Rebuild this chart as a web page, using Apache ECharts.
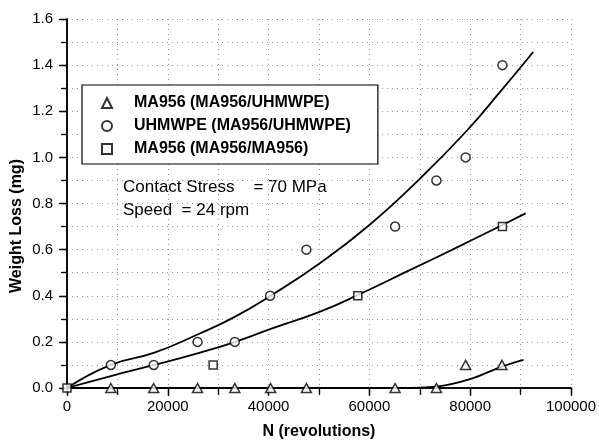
<!DOCTYPE html>
<html>
<head>
<meta charset="utf-8">
<script src="https://cdn.jsdelivr.net/npm/echarts@6/dist/echarts.min.js"></script>
<style>
  html, body { margin: 0; background: #fff; }
  #chart { width: 599px; height: 445px; }
</style>
</head>
<body>
<div id="chart"></div>
<script>
// measured points
var seriesNames = ['MA956 (MA956/UHMWPE)', 'UHMWPE (MA956/UHMWPE)', 'MA956 (MA956/MA956)'];

var triN = [8700, 17200, 25900, 33300, 40400, 47500, 65100, 73300, 79100, 86300];
var triW = [0, 0, 0, 0, 0, 0, 0, 0, 0.1, 0.1];

var cirN = [8700, 17200, 25900, 33300, 40300, 47500, 65100, 73300, 79100, 86400];
var cirW = [0.1, 0.1, 0.2, 0.2, 0.4, 0.6, 0.7, 0.9, 1.0, 1.4];

var sqN = [0, 29000, 57700, 86400];
var sqW = [0, 0.1, 0.4, 0.7];

// fitted curves
var fitCirN = [0, 8700, 17200, 25900, 33000, 40400, 50100, 60000, 69900, 79100, 86100, 92500];
var fitCirW = [0, 0.10, 0.152, 0.232, 0.305, 0.400, 0.540, 0.707, 0.905, 1.110, 1.288, 1.457];

var fitSqN = [0, 8700, 17300, 25900, 33100, 40300, 50100, 57700, 67900, 77800, 86400, 91000];
var fitSqW = [0, 0.052, 0.10, 0.15, 0.198, 0.255, 0.330, 0.403, 0.51, 0.614, 0.707, 0.757];

var fitTriN = [0, 40000, 66000, 73300, 79800, 86300, 90600];
var fitTriW = [0, 0, 0, 0.006, 0.037, 0.093, 0.122];

var notes = ['Contact Stress    = 70 MPa', 'Speed  = 24 rpm'];

var xMin = 0, xMax = 100000, xStep = 20000;
var yMin = 0, yMax = 1.6, yStep = 0.2;

var font = 'Liberation Sans, Arial, Helvetica, sans-serif';

function pairs(xs, ys) {
    return xs.map(function (x, i) { return [x, ys[i]]; });
}

var chart = echarts.init(document.getElementById('chart'));

var markerStyle = { color: '#fff', borderColor: '#000', borderWidth: 1.5 };
var fitStyle = { color: '#000', width: 1.8 };

function mainAxis(extra) {
    return Object.assign({
        type: 'value',
        axisLine: { show: true, lineStyle: { color: '#000', width: 1.5 } },
        axisTick: { show: true, length: 7, lineStyle: { color: '#000', width: 1.3 } },
        minorTick: { show: true, splitNumber: 2, length: 5, lineStyle: { color: '#000', width: 1.2 } },
        splitLine: { show: true, lineStyle: { color: '#999', type: [1, 4], width: 1 } },
        minorSplitLine: { show: true, lineStyle: { color: '#999', type: [1, 4], width: 1 } },
        axisLabel: { color: '#000', fontSize: 15, fontFamily: font }
    }, extra);
}

function mirrorAxis(extra) {
    return Object.assign({
        type: 'value',
        axisLine: { show: true, lineStyle: { color: '#000', width: 1.5 } },
        axisTick: { show: true, inside: true, length: 8, lineStyle: { color: '#000', width: 1.3 } },
        minorTick: { show: true, inside: true, splitNumber: 2, length: 6, lineStyle: { color: '#000', width: 1.2 } },
        splitLine: { show: false },
        axisLabel: { show: false }
    }, extra);
}

chart.setOption({
    animation: false,
    backgroundColor: '#fff',
    grid: { left: 67, right: 27, top: 19, bottom: 54 },
    xAxis: [
        mainAxis({
            min: xMin, max: xMax, interval: xStep, position: 'bottom',
            axisLabel: {
                color: '#000', fontSize: 15, fontFamily: font, margin: 11,
                formatter: function (v) { return String(v); }
            },
            minorTick: { show: true, splitNumber: 2, length: 7, lineStyle: { color: '#000', width: 1.2 } },
            name: 'N (revolutions)', nameLocation: 'middle', nameGap: 36,
            nameTextStyle: { color: '#000', fontSize: 16, fontWeight: 'bold', fontFamily: font }
        }),
        mirrorAxis({ min: xMin, max: xMax, interval: xStep, position: 'top' })
    ],
    yAxis: [
        mainAxis({
            min: yMin, max: yMax, interval: yStep, position: 'left',
            axisLabel: {
                color: '#000', fontSize: 15, fontFamily: font, margin: 14,
                formatter: function (v) { return v.toFixed(1); }
            }
        }),
        mirrorAxis({ min: yMin, max: yMax, interval: yStep, position: 'right' })
    ],
    legend: {
        orient: 'vertical',
        left: 82, top: 85,
        padding: [10, 27, 7, 19],
        itemGap: 7,
        itemWidth: 10, itemHeight: 10,
        backgroundColor: '#fff',
        borderColor: '#000', borderWidth: 1.2,
        data: seriesNames,
        textStyle: { color: '#000', fontSize: 16, fontWeight: 'bold', fontFamily: font, padding: [0, 0, 0, 17] }
    },
    graphic: [
        {
            type: 'text', x: 17, y: 226, rotation: Math.PI / 2,
            style: {
                text: 'Weight Loss (mg)', fill: '#000', align: 'center', verticalAlign: 'middle',
                font: 'bold 16px ' + font
            }
        },
        {
            type: 'text', left: 123, top: 179,
            style: { text: notes[0], fill: '#000', font: '17px ' + font }
        },
        {
            type: 'text', left: 123, top: 202,
            style: { text: notes[1], fill: '#000', font: '17px ' + font }
        }
    ],
    series: [
        {
            type: 'line', data: pairs(fitTriN, fitTriW), showSymbol: false, smooth: 0.4,
            lineStyle: fitStyle, silent: true, z: 2
        },
        {
            type: 'line', data: pairs(fitCirN, fitCirW), showSymbol: false, smooth: 0.5,
            lineStyle: fitStyle, silent: true, z: 2
        },
        {
            type: 'line', data: pairs(fitSqN, fitSqW), showSymbol: false, smooth: 0.5,
            lineStyle: fitStyle, silent: true, z: 2
        },
        {
            name: seriesNames[0], type: 'scatter', data: pairs(triN, triW),
            symbol: 'triangle', symbolSize: [10, 9], itemStyle: markerStyle, z: 3
        },
        {
            name: seriesNames[1], type: 'scatter', data: pairs(cirN, cirW),
            symbol: 'circle', symbolSize: 9, itemStyle: markerStyle, z: 3
        },
        {
            name: seriesNames[2], type: 'scatter', data: pairs(sqN, sqW),
            symbol: 'rect', symbolSize: 8, itemStyle: markerStyle, z: 3
        }
    ]
});
</script>
</body>
</html>
